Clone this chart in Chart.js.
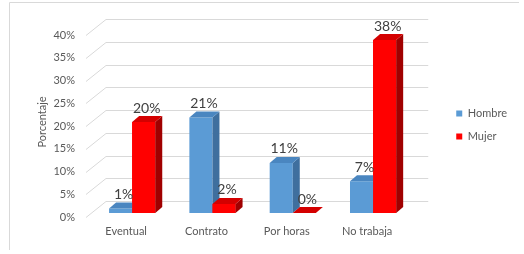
<!DOCTYPE html>
<html>
<head>
<meta charset="utf-8">
<script src="https://cdn.jsdelivr.net/npm/chart.js@4/dist/chart.umd.min.js"></script>
<style>
  html, body { margin: 0; padding: 0; background: #fff; }
  #wrap { position: relative; width: 524px; height: 254px; }
</style>
</head>
<body>
<div id="wrap"><canvas id="myChart" width="524" height="254"></canvas></div>
<script>
// datos
var categorias = ['Eventual', 'Contrato', 'Por horas', 'No trabaja'];
var hombre = [1, 21, 11, 7];
var mujer = [20, 2, 0, 38];
var series = ['Hombre', 'Mujer'];
var ticksY = [0, 5, 10, 15, 20, 25, 30, 35, 40];

var DX = 7, DY = 6; // profundidad de las barras
var caras = [
  { top: '#4a86c0', side: '#3f6f9e' },
  { top: '#d40000', side: '#a00000' }
];

function poly(ctx, pts, color) {
  ctx.beginPath();
  ctx.moveTo(pts[0][0], pts[0][1]);
  for (var i = 1; i < pts.length; i++) ctx.lineTo(pts[i][0], pts[i][1]);
  ctx.closePath();
  ctx.fillStyle = color;
  ctx.fill();
}

function caras3d(ctx, meta, c) {
  meta.data.forEach(function(bar) {
    var p = bar.getProps(['x', 'y', 'base', 'width'], true);
    var l = p.x - p.width / 2, r = p.x + p.width / 2;
    poly(ctx, [[r, p.y], [r + DX, p.y - DY], [r + DX, p.base - DY], [r, p.base]], c.side);
    poly(ctx, [[l, p.y], [l + DX, p.y - DY], [r + DX, p.y - DY], [r, p.y]], c.top);
  });
}

var fondo3d = {
  id: 'fondo3d',
  beforeDraw: function(chart) {
    // leyenda algo mas arriba como en el original
    var lg = chart.legend, a = chart.chartArea;
    lg.top = a.top - 12; lg.bottom = a.bottom + 18;

    var ctx = chart.ctx;
    ctx.save();
    ctx.strokeStyle = '#d9d9d9';
    ctx.lineWidth = 1;
    ctx.beginPath();
    ctx.moveTo(9.5, 250);
    ctx.lineTo(9.5, 2.5);
    ctx.lineTo(519, 2.5);
    ctx.stroke();
    ctx.restore();
  },
  beforeDatasetsDraw: function(chart) {
    var ctx = chart.ctx, ys = chart.scales.y, a = chart.chartArea;
    ctx.save();
    ctx.strokeStyle = '#d9d9d9';
    ctx.lineWidth = 1;
    ticksY.forEach(function(v) {
      var py = Math.round(ys.getPixelForValue(v));
      ctx.beginPath();
      ctx.moveTo(a.left - 6, py + 4.5);
      ctx.lineTo(a.left + 14, py - 11.5);
      ctx.lineTo(a.right + 15, py - 11.5);
      ctx.stroke();
    });
    ctx.restore();
  },
  afterDatasetsDraw: function(chart) {
    var ctx = chart.ctx;
    var m0 = chart.getDatasetMeta(0), m1 = chart.getDatasetMeta(1);
    ctx.save();
    caras3d(ctx, m0, caras[0]);
    m1.data.forEach(function(el) { el.draw(ctx); });
    caras3d(ctx, m1, caras[1]);
    ctx.font = '14px Lato';
    ctx.fillStyle = '#404040';
    ctx.textAlign = 'center';
    ctx.textBaseline = 'middle';
    [m0, m1].forEach(function(meta, di) {
      meta.data.forEach(function(bar, i) {
        var val = chart.data.datasets[di].data[i];
        ctx.fillText(val + '%', bar.x + 3, bar.y - 14);
      });
    });
    ctx.restore();
  }
};

var ctx = document.getElementById('myChart').getContext('2d');
var myChart = new Chart(ctx, {
  type: 'bar',
  data: {
    labels: categorias,
    datasets: [
      { label: series[0], data: hombre, backgroundColor: '#5b9bd5' },
      { label: series[1], data: mujer, backgroundColor: '#ff0000' }
    ]
  },
  options: {
    responsive: false,
    animation: false,
    layout: { padding: { left: 10, right: 7, top: 31, bottom: 11 } },
    datasets: { bar: { categoryPercentage: 0.575, barPercentage: 1 } },
    plugins: {
      legend: {
        position: 'right',
        labels: {
          boxWidth: 6, boxHeight: 6, padding: 12,
          color: '#595959',
          font: { family: 'Lato', size: 11 }
        }
      },
      tooltip: { enabled: false }
    },
    scales: {
      x: {
        grid: { display: false },
        border: { display: false },
        ticks: { color: '#595959', font: { family: 'Lato', size: 11 }, padding: 4, labelOffset: -6 },
        afterFit: function(s) { s.height = 30; }
      },
      y: {
        min: 0, max: 40,
        grid: { display: false },
        border: { display: false },
        ticks: {
          stepSize: 5, padding: 9, labelOffset: 4,
          color: '#595959', font: { family: 'Lato', size: 11 },
          callback: function(v) { return v + '%'; }
        },
        title: {
          display: true, text: 'Porcentaje', color: '#595959',
          font: { family: 'Lato', size: 11 }, padding: { top: 26, bottom: 0 }
        },
        afterFit: function(s) { s.width = 82; }
      },
      // eje vacio: solo deja hueco para la profundidad 3D antes de la leyenda
      hueco: {
        position: 'right', min: 0, max: 40,
        grid: { display: false },
        border: { display: false },
        ticks: { display: false },
        afterFit: function(s) { s.width = 31; }
      }
    }
  },
  plugins: [fondo3d]
});
</script>
</body>
</html>
